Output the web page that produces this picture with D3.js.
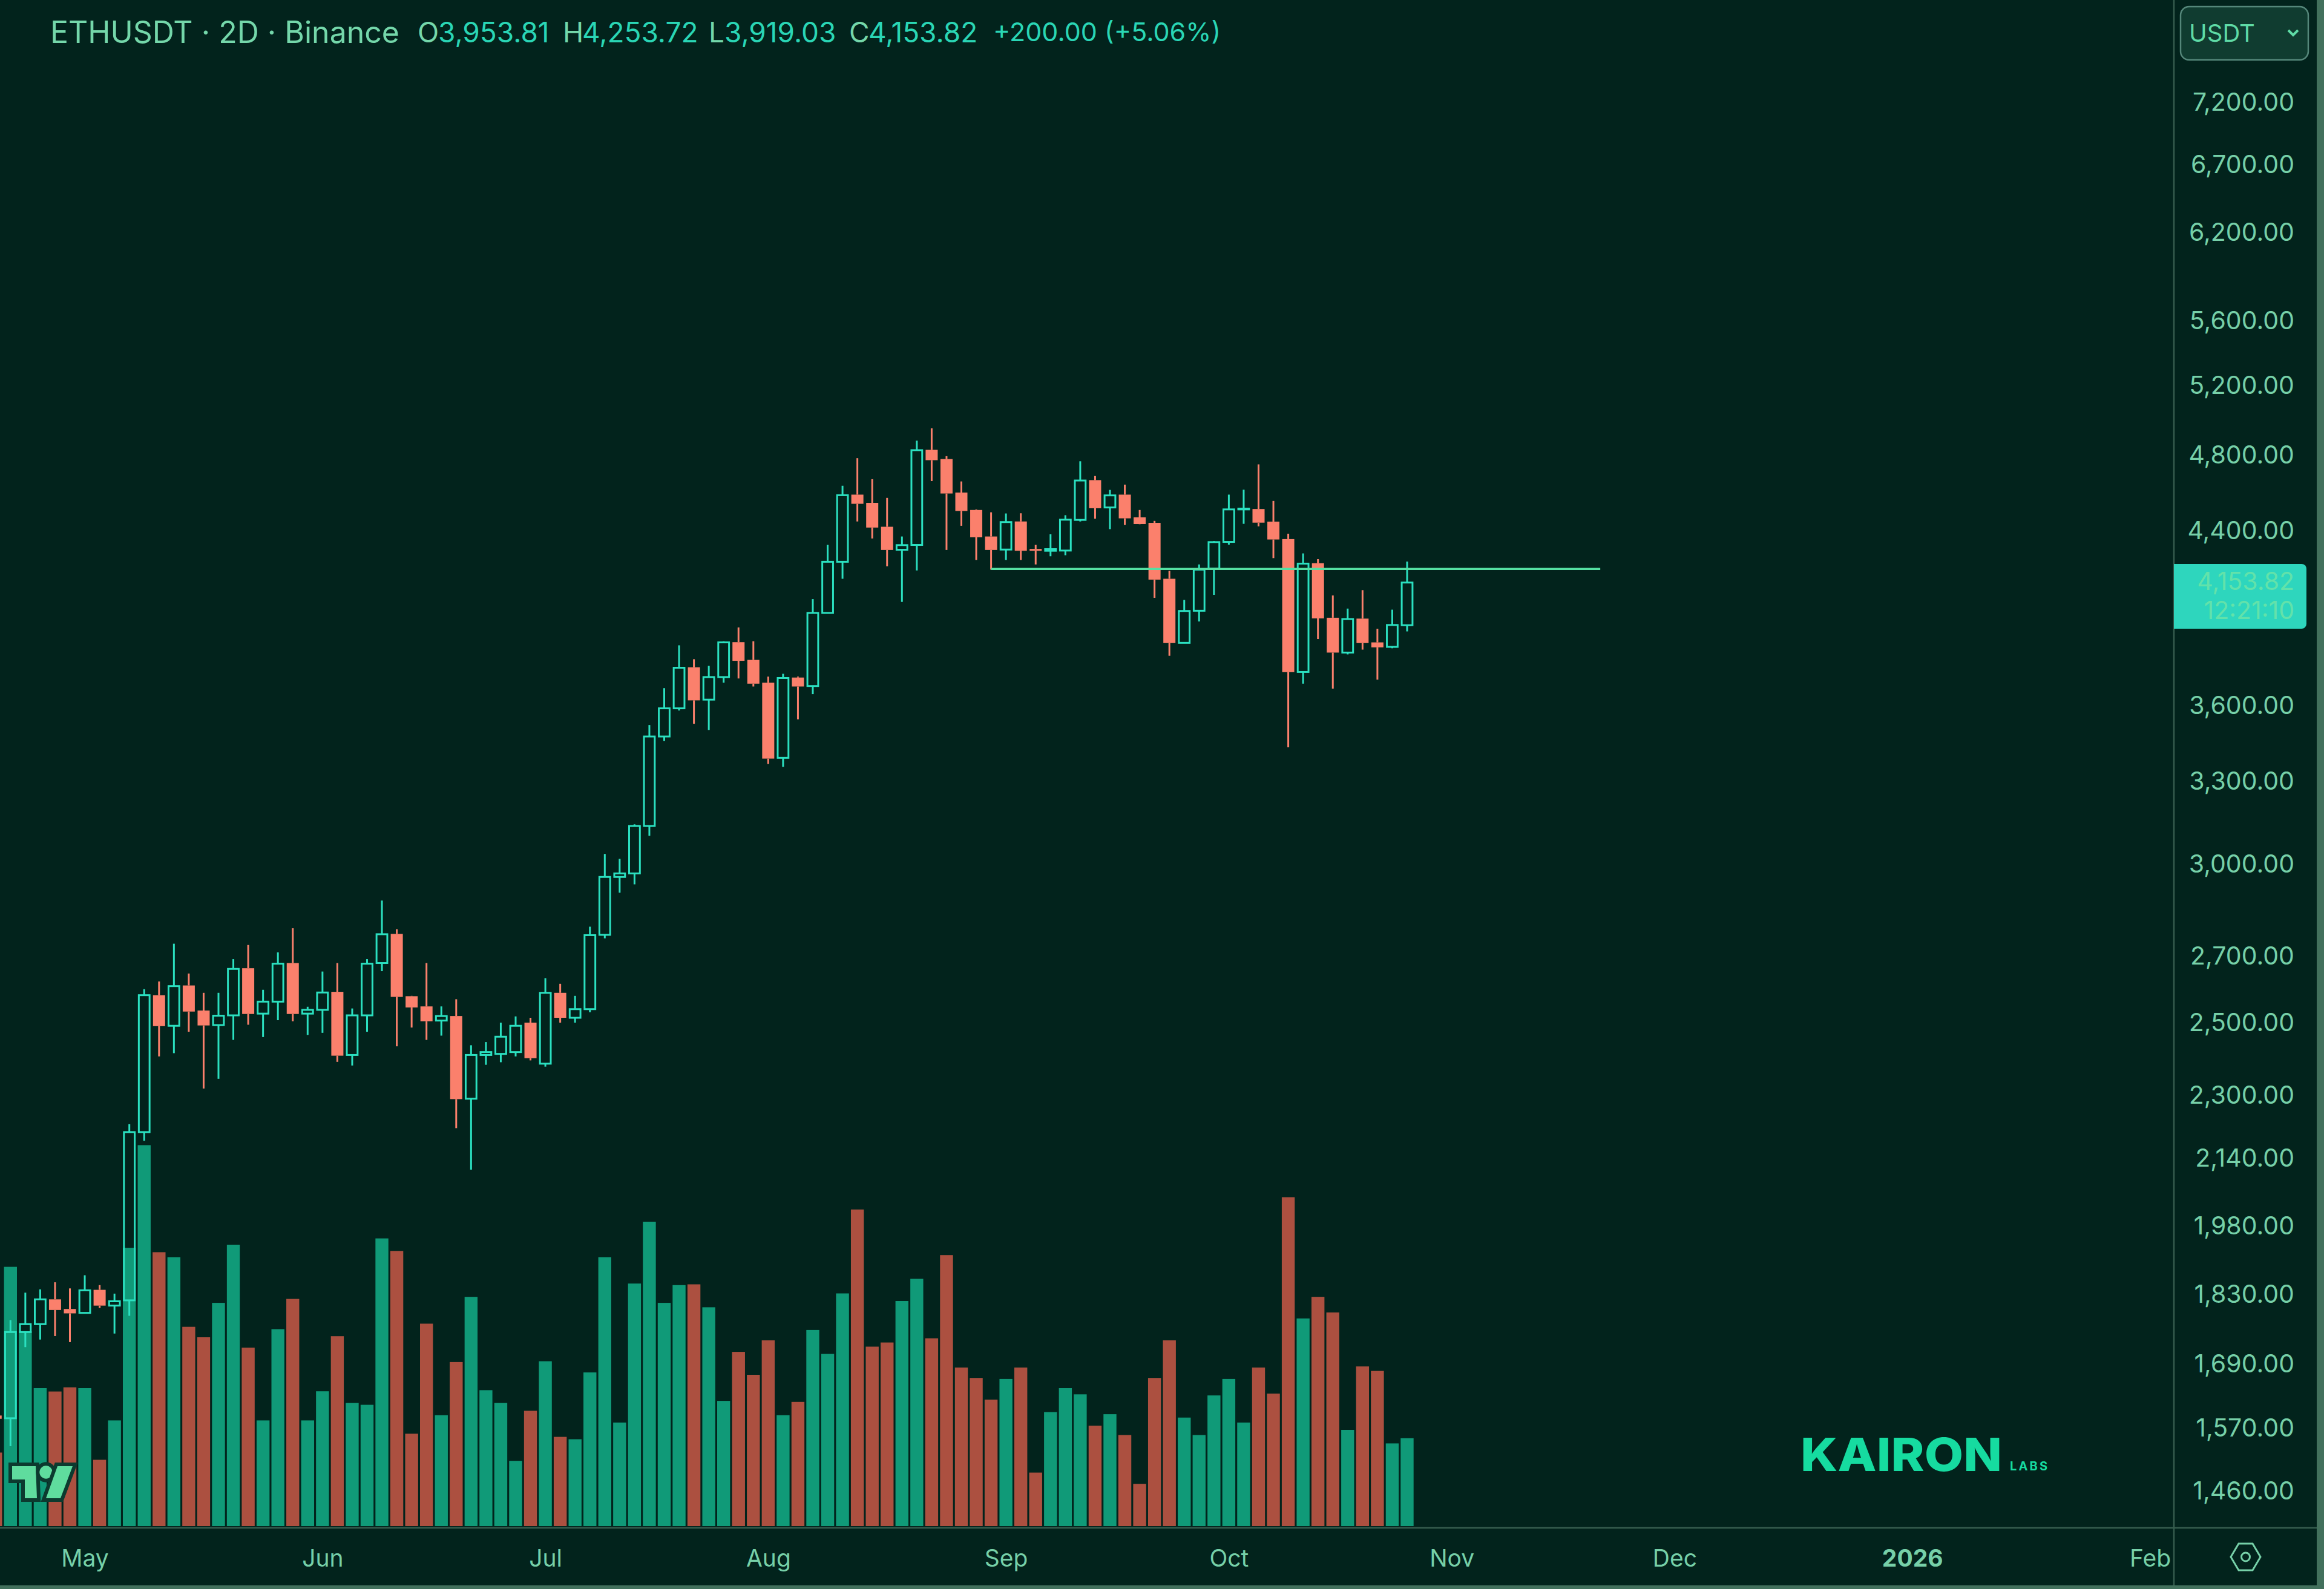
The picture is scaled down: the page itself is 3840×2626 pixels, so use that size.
<!DOCTYPE html>
<html>
<head>
<meta charset="utf-8">
<style>
  html, body { margin: 0; padding: 0; background: #02231c; }
  svg { display: block; }
  text { font-family: "Inter", "Noto Sans", sans-serif; }
</style>
<script src="https://cdn.jsdelivr.net/npm/d3@7"></script>
</head>
<body>
<script>
// 2D candles, first one is cut by the left edge
const opens = [1590,1585,1750,1766,1817,1797,1789,1837,1804,1815,2202,2577,2488,2606,2532,2490,2518,2658,2523,2558,2674,2523,2534,2587,2406,2518,2674,2765,2574,2544,2503,2516,2288,2406,2409,2414,2497,2382,2584,2511,2536,2762,2952,2964,3130,3469,3583,3756,3619,3714,3866,3788,3690,3385,3712,3676,3998,4240,4580,4537,4414,4299,4323,4822,4771,4591,4500,4365,4300,4441,4303,4294,4295,4449,4657,4513,4580,4462,4434,4158,3863,4008,4207,4338,4503,4505,4440,4352,3736,4233,3976,3820,3972,3865,3845,3942];
const highs = [1600,1774,1831,1838,1853,1840,1868,1847,1829,2222,2595,2618,2734,2642,2584,2584,2686,2730,2593,2707,2783,2543,2648,2674,2538,2686,2873,2780,2575,2674,2544,2565,2433,2442,2497,2515,2511,2628,2611,2575,2788,3031,3014,3136,3515,3667,3852,3791,3762,3870,3932,3870,3716,3728,3716,4062,4323,4627,4776,4662,4563,4365,4873,4943,4787,4650,4503,4488,4482,4483,4323,4376,4473,4759,4679,4605,4633,4500,4444,4196,4058,4227,4342,4580,4606,4742,4547,4379,4281,4253,4079,4018,4104,3926,4013,4241];
const lows = [1578,1535,1720,1735,1742,1730,1788,1799,1747,1783,2180,2402,2411,2471,2315,2341,2448,2491,2456,2504,2501,2462,2468,2387,2377,2471,2649,2430,2483,2448,2460,2212,2109,2379,2386,2402,2391,2374,2497,2497,2527,2751,2899,2927,3095,3451,3574,3520,3495,3690,3708,3674,3361,3350,3538,3642,3997,4158,4441,4355,4218,4049,4198,4652,4298,4419,4249,4202,4249,4249,4227,4267,4272,4441,4455,4402,4423,4427,4068,3806,3862,3959,4082,4324,4429,4416,4258,3426,3686,3880,3665,3812,3833,3703,3839,3914];
const closes = [1584,1750,1766,1817,1795,1788,1836,1804,1813,2202,2577,2487,2604,2529,2489,2517,2656,2522,2558,2672,2522,2534,2585,2404,2518,2672,2764,2572,2541,2501,2516,2287,2406,2414,2457,2488,2397,2584,2511,2536,2761,2952,2964,3130,3469,3583,3754,3616,3714,3865,3784,3686,3382,3710,3674,3998,4240,4577,4532,4410,4298,4322,4820,4765,4586,4495,4361,4298,4438,4294,4294,4302,4450,4655,4509,4576,4457,4428,4154,3862,4007,4202,4337,4503,4507,4435,4350,3735,4231,3973,3820,3970,3862,3843,3943,4140];
const volumes = [1215,4284,3220,2280,2224,2293,2280,1095,1746,4599,6295,4526,4444,3293,3120,3689,4650,2948,1746,3254,3754,1746,2228,3138,2034,2004,4754,4547,1526,3345,1832,2711,3788,2246,2034,1078,1905,2724,1474,1435,2539,4444,1711,4008,5030,3689,3982,3995,3616,2069,2879,2500,3069,1832,2052,3241,2845,3845,5232,2965,3034,3720,4086,3103,4478,2620,2448,2090,2431,2620,884,1883,2280,2177,1659,1849,1504,698,2448,3069,1793,1504,2159,2431,1711,2620,2189,5435,3431,3788,3530,1590,2638,2564,1366,1452];

const priceTicks = [7200,6700,6200,5600,5200,4800,4400,3600,3300,3000,2700,2500,2300,2140,1980,1830,1690,1570,1460];
const timeLabels = ["May","Jun","Jul","Aug","Sep","Oct","Nov","Dec","2026","Feb"];
const timeBars = [5,21,36,51,67,82,97,112,128,144];

const lastPrice = "4,153.82";
const countdown = "12:21:10";
const levelPrice = 4205;
const levelBars = [66,107];

const W = 3840, H = 2626;
const paneRight = 3592, paneBottom = 2525, volBase = 2522;

const bg = "#02231c", lineCol = "#365c4e", axisText = "#76d0a8";
const upCol = "#2be0c0", downCol = "#fb806c";
const upVol = "#109a78", downVol = "#ac5040";

const svg = d3.select("body").append("svg")
    .attr("width", W)
    .attr("height", H);

svg.append("rect").attr("width", W).attr("height", H).attr("fill", bg);

// bar index -> pixel, bar 0 is the first whole candle
const x = d3.scaleLinear().domain([0, 94]).range([17.3, 2325]);
const y = d3.scaleLog().domain([7200, 1460]).range([166.7, 2462]);
const yVol = d3.scaleLinear().domain([0, 7000]).range([volBase, volBase - 700]);

const bars = opens.map((o, i) => ({
    bar: i - 1, o: o, h: highs[i], l: lows[i], c: closes[i], v: volumes[i], up: closes[i] >= o
}));

// volume under the candles
svg.append("g").selectAll("rect")
    .data(bars)
    .enter()
    .append("rect")
    .attr("x", d => x(d.bar) - 10.7)
    .attr("width", 21.4)
    .attr("y", d => yVol(d.v))
    .attr("height", d => volBase - yVol(d.v))
    .attr("fill", d => d.up ? upVol : downVol);

const candles = svg.append("g").selectAll("g")
    .data(bars)
    .enter()
    .append("g")
    .attr("stroke", d => d.up ? upCol : downCol);

candles.append("line")
    .attr("x1", d => x(d.bar)).attr("x2", d => x(d.bar))
    .attr("y1", d => y(d.h))
    .attr("y2", d => y(Math.max(d.o, d.c)))
    .attr("stroke-width", 3);

candles.append("line")
    .attr("x1", d => x(d.bar)).attr("x2", d => x(d.bar))
    .attr("y1", d => y(Math.min(d.o, d.c)))
    .attr("y2", d => y(d.l))
    .attr("stroke-width", 3);

// up candles are hollow, the volume shows through
candles.append("rect")
    .attr("x", d => x(d.bar) - (d.up ? 8.9 : 10))
    .attr("width", d => d.up ? 17.8 : 20)
    .attr("y", d => y(Math.max(d.o, d.c)))
    .attr("height", d => Math.max(y(Math.min(d.o, d.c)) - y(Math.max(d.o, d.c)), 1))
    .attr("fill", d => d.up ? "none" : downCol)
    .attr("stroke-width", d => d.up ? 3 : 0);

// drawn level
svg.append("line")
    .attr("x1", x(levelBars[0])).attr("x2", x(levelBars[1]))
    .attr("y1", y(levelPrice)).attr("y2", y(levelPrice))
    .attr("stroke", "#55dfa2")
    .attr("stroke-width", 3.6);

// frame
svg.append("rect").attr("x", paneRight).attr("width", W - paneRight).attr("height", H).attr("fill", bg);
svg.append("rect").attr("y", paneBottom).attr("width", W).attr("height", H - paneBottom).attr("fill", bg);
svg.append("line").attr("x1", paneRight).attr("x2", paneRight).attr("y1", 0).attr("y2", 2620)
    .attr("stroke", lineCol).attr("stroke-width", 2.5);
svg.append("line").attr("x1", 0).attr("x2", 3830).attr("y1", paneBottom).attr("y2", paneBottom)
    .attr("stroke", lineCol).attr("stroke-width", 2.5);
svg.append("rect").attr("x", 3828).attr("width", 12).attr("height", H).attr("fill", "#42705c");
svg.append("rect").attr("y", 2620).attr("width", W).attr("height", 6).attr("fill", "#42705c");

// price axis
const priceAxis = svg.append("g")
    .attr("transform", `translate(${paneRight},0)`)
    .call(d3.axisRight(y).tickValues(priceTicks).tickFormat(d3.format(",.2f")).tickSize(0));
priceAxis.select(".domain").remove();
priceAxis.selectAll("text")
    .attr("x", 199)
    .attr("dy", "0.38em")
    .attr("text-anchor", "end")
    .attr("font-family", "Inter")
    .attr("font-size", 41)
    .attr("fill", axisText);

// time axis
const timeAxis = svg.append("g")
    .attr("transform", `translate(0,${paneBottom})`)
    .call(d3.axisBottom(x).tickValues(timeBars).tickFormat((d, i) => timeLabels[i]).tickSize(0));
timeAxis.select(".domain").remove();
timeAxis.selectAll("text")
    .attr("y", 50)
    .attr("dy", "0.36em")
    .attr("font-family", "Inter")
    .attr("font-size", 39)
    .attr("font-weight", (d, i) => timeLabels[i] == "2026" ? 700 : 400)
    .attr("fill", axisText);

// last price tag
svg.append("path")
    .attr("d", "M3592,932H3803a8,8 0 0 1 8,8V1031a8,8 0 0 1 -8,8H3592Z")
    .attr("fill", "#2ed6bd");
svg.selectAll(".tag")
    .data([[lastPrice, 960], [countdown, 1008]])
    .enter()
    .append("text")
    .attr("x", 3791)
    .attr("y", d => d[1])
    .attr("dy", "0.36em")
    .attr("text-anchor", "end")
    .attr("font-size", 41)
    .attr("fill", "#62e2aa")
    .text(d => d[0]);

// currency button
svg.append("rect")
    .attr("x", 3603).attr("y", 11).attr("width", 211).attr("height", 88).attr("rx", 14)
    .attr("fill", "#103c30").attr("stroke", "#55877a").attr("stroke-width", 2.5);
svg.append("text")
    .attr("x", 3617).attr("y", 55).attr("dy", "0.36em")
    .attr("font-size", 40).attr("fill", "#5fdba6")
    .text("USDT");
svg.append("path")
    .attr("d", "M3781,50L3789,58L3797,50")
    .attr("fill", "none").attr("stroke", "#5fdba6").attr("stroke-width", 4);

// legend line
const legend = [
    [83, "ETHUSDT · 2D · Binance", "#74d7aa", 50],
    [690, "O", "#74d7aa", 46], [724, "3,953.81", "#2ad6b5", 46],
    [930, "H", "#74d7aa", 46], [962, "4,253.72", "#2ad6b5", 46],
    [1171, "L", "#74d7aa", 46], [1197, "3,919.03", "#2ad6b5", 46],
    [1403, "C", "#74d7aa", 46], [1435, "4,153.82", "#2ad6b5", 46],
    [1641, "+200.00 (+5.06%)", "#2ad6b5", 43]
];
svg.selectAll(".legend")
    .data(legend)
    .enter()
    .append("text")
    .attr("x", d => d[0])
    .attr("y", 53)
    .attr("dy", "0.36em")
    .attr("font-size", d => d[3])
    .attr("fill", d => d[2])
    .text(d => d[1]);

// hex settings icon
svg.append("path")
    .attr("d", "M3699,2551H3722L3735,2573L3722,2595H3699L3686,2573Z")
    .attr("fill", "none").attr("stroke", axisText).attr("stroke-width", 3);
svg.append("circle")
    .attr("cx", 3710.5).attr("cy", 2573).attr("r", 7)
    .attr("fill", "none").attr("stroke", axisText).attr("stroke-width", 3);

// tradingview mark
const tv = svg.append("g").attr("fill", "#5fdc9e").attr("stroke", "#0c3a2f").attr("stroke-width", 12)
    .style("paint-order", "stroke");
tv.append("path").attr("d", "M20,2423H59L61,2476H41V2445H20Z");
tv.append("circle").attr("cx", 76).attr("cy", 2433).attr("r", 10.7);
tv.append("path").attr("d", "M95,2423H120L100,2476H76Z");

// watermark
svg.append("text")
    .attr("x", 2975).attr("y", 2431)
    .attr("font-size", 76).attr("font-weight", 800).attr("fill", "#16dba0")
    .attr("textLength", 333).attr("lengthAdjust", "spacingAndGlyphs")
    .text("KAIRON");
svg.append("text")
    .attr("x", 3321).attr("y", 2430)
    .attr("font-size", 20).attr("font-weight", 700).attr("fill", "#16dba0")
    .attr("textLength", 62)
    .text("LABS");
</script>
</body>
</html>
